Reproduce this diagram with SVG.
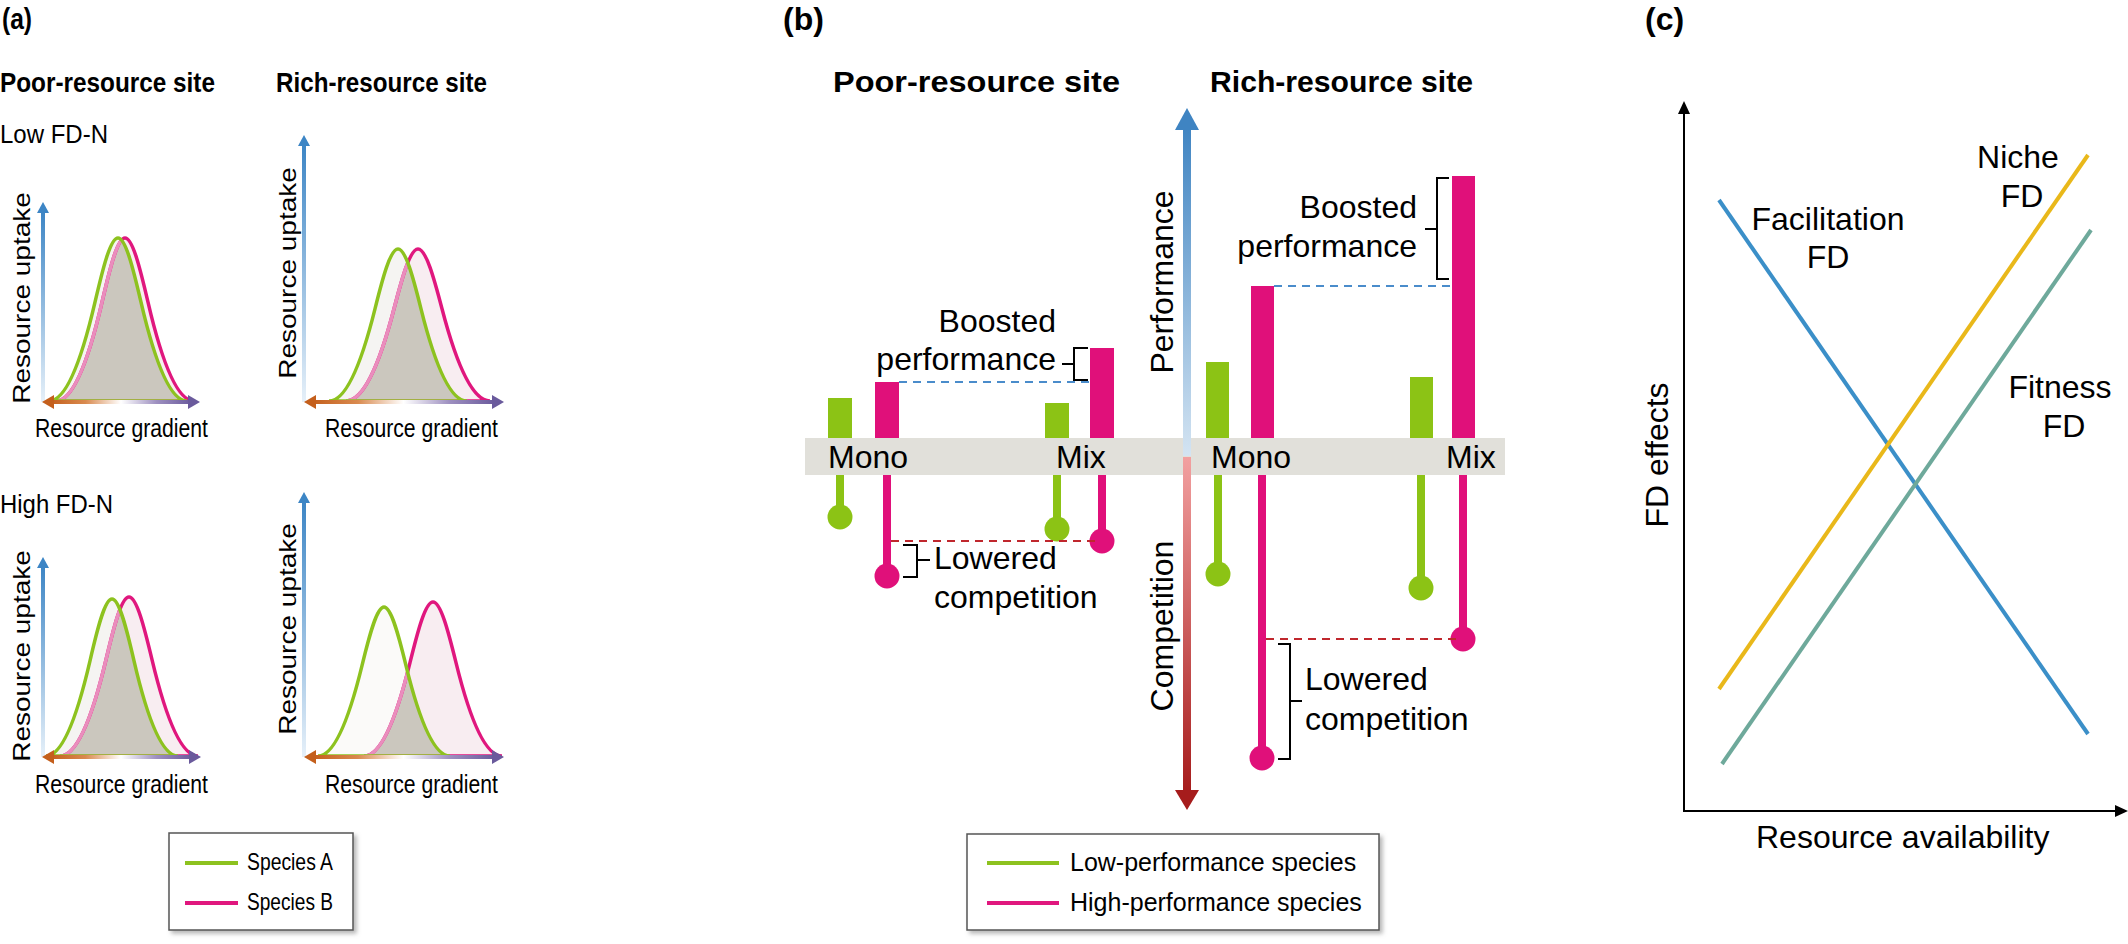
<svg xmlns="http://www.w3.org/2000/svg" width="2128" height="944" viewBox="0 0 2128 944">
<style>
text{font-family:"Liberation Sans",Arial,sans-serif;fill:#000}
.b{font-weight:bold}
.f25{font-size:25px}.f32{font-size:32px}
.pk{fill:#f8edf1}.gr{fill:#f5f4f2}.ov{fill:#cbc7be}
.pks{fill:none;stroke:#e0177e;stroke-width:3.5}
.pkl{fill:none;stroke:#ea8dbd;stroke-width:3.5}
.gs{fill:none;stroke:#8dc21f;stroke-width:3.5}
.br{fill:none;stroke:#000;stroke-width:2}
.gbar{fill:#8cc315}.pbar{fill:#e0107a}
.gst{stroke:#8cc315;stroke-width:8}.pst{stroke:#e0107a;stroke-width:8}
.leg{fill:#fff;stroke:#555;stroke-width:1.5;filter:url(#sh)}
</style>
<defs>
<filter id="sh" x="-10%" y="-10%" width="125%" height="130%"><feDropShadow dx="3" dy="3" stdDeviation="2" flood-color="#888" flood-opacity="0.6"/></filter>
<linearGradient id="gx" x1="0" y1="0" x2="1" y2="0"><stop offset="0" stop-color="#c45f1c"/><stop offset="0.25" stop-color="#d98a4f"/><stop offset="0.5" stop-color="#ffffff"/><stop offset="0.75" stop-color="#9e90c0"/><stop offset="1" stop-color="#6a5a9c"/></linearGradient>
<linearGradient id="gy" x1="0" y1="0" x2="0" y2="1"><stop offset="0" stop-color="#3c85c5"/><stop offset="1" stop-color="#e6f0f9"/></linearGradient>
<linearGradient id="gperf" x1="0" y1="0" x2="0" y2="1"><stop offset="0" stop-color="#3f84c2"/><stop offset="1" stop-color="#d4e4f2"/></linearGradient>
<linearGradient id="gcomp" x1="0" y1="0" x2="0" y2="1"><stop offset="0" stop-color="#f2a0a0"/><stop offset="1" stop-color="#a61c1c"/></linearGradient>
<path id="tlg" d="M49,401 C64.3,401 79.7,368 95,302.1 C102.7,269.1 110.3,238 118,238 C125.7,238 133.3,269.1 141,302.1 C156.3,368 171.7,401 187,401 Z"/>
<path id="tlp" d="M56,401 C71.3,401 86.7,368 102,302.1 C109.7,269.1 117.3,238 125,238 C132.7,238 140.3,269.1 148,302.1 C163.3,368 178.7,401 194,401 Z"/>
<path id="trg" d="M329,401 C344.3,401 359.7,370.2 375,308.8 C382.7,278 390.3,249 398,249 C405.7,249 413.3,278 421,308.8 C436.3,370.2 451.7,401 467,401 Z"/>
<path id="trp" d="M346,401 C362,401 378,370.2 394,308.8 C402,278 410,249 418,249 C426,249 434,278 442,308.8 C458,370.2 474,401 490,401 Z"/>
<path id="blg" d="M46,756 C60.7,756 75.3,724.2 90,660.8 C97.3,629 104.7,599 112,599 C119.3,599 126.7,629 134,660.8 C148.7,724.2 163.3,756 178,756 Z"/>
<path id="blp" d="M60,756 C75.3,756 90.7,723.8 106,659.6 C113.7,627.4 121.3,597 129,597 C136.7,597 144.3,627.4 152,659.6 C167.3,723.8 182.7,756 198,756 Z"/>
<path id="brg" d="M318,756 C332.7,756 347.3,725.8 362,665.6 C369.3,635.5 376.7,607 384,607 C391.3,607 398.7,635.5 406,665.6 C420.7,725.8 435.3,756 450,756 Z"/>
<path id="brp" d="M364,756 C379.3,756 394.7,724.8 410,662.6 C417.7,631.4 425.3,602 433,602 C440.7,602 448.3,631.4 456,662.6 C471.3,724.8 486.7,756 502,756 Z"/>
<clipPath id="c-tl"><path d="M49,401 C64.3,401 79.7,368 95,302.1 C102.7,269.1 110.3,238 118,238 C125.7,238 133.3,269.1 141,302.1 C156.3,368 171.7,401 187,401 Z"/></clipPath>
<clipPath id="c-tr"><path d="M329,401 C344.3,401 359.7,370.2 375,308.8 C382.7,278 390.3,249 398,249 C405.7,249 413.3,278 421,308.8 C436.3,370.2 451.7,401 467,401 Z"/></clipPath>
<clipPath id="c-bl"><path d="M46,756 C60.7,756 75.3,724.2 90,660.8 C97.3,629 104.7,599 112,599 C119.3,599 126.7,629 134,660.8 C148.7,724.2 163.3,756 178,756 Z"/></clipPath>
<clipPath id="c-br"><path d="M318,756 C332.7,756 347.3,725.8 362,665.6 C369.3,635.5 376.7,607 384,607 C391.3,607 398.7,635.5 406,665.6 C420.7,725.8 435.3,756 450,756 Z"/></clipPath>
</defs>
<rect width="2128" height="944" fill="#fff"/>

<!-- Panel (a) -->
<g id="panel-a">
<text class="b" x="2" y="29" font-size="30" textLength="30" lengthAdjust="spacingAndGlyphs">(a)</text>
<text class="b" x="0" y="92" font-size="28" textLength="215" lengthAdjust="spacingAndGlyphs">Poor-resource site</text>
<text class="b" x="276" y="92" font-size="28" textLength="211" lengthAdjust="spacingAndGlyphs">Rich-resource site</text>
<text x="0" y="143" font-size="26" textLength="108" lengthAdjust="spacingAndGlyphs">Low FD-N</text>
<text x="0" y="513" font-size="26" textLength="113" lengthAdjust="spacingAndGlyphs">High FD-N</text>

<g id="chart-tl">
<use href="#tlp" class="pk"/><use href="#tlg" class="gr"/><use href="#tlp" class="ov" clip-path="url(#c-tl)"/>
<use href="#tlp" class="pks"/><use href="#tlp" class="pkl" clip-path="url(#c-tl)"/><use href="#tlg" class="gs"/>
<rect x="41" y="210" width="4" height="192" fill="url(#gy)"/><polygon points="43,202 37,213 49,213" fill="#3c85c5"/>
<rect x="50" y="400" width="142" height="4" fill="url(#gx)"/>
<polygon points="42,402 54,395 54,409" fill="#c45f1c"/><polygon points="200,402 188,395 188,409" fill="#6a5a9c"/>
<text x="0" y="0" font-size="28" text-anchor="middle" transform="translate(30,298) scale(0.85,1) rotate(-90)">Resource uptake</text>
<text x="35" y="437" font-size="25" textLength="173" lengthAdjust="spacingAndGlyphs">Resource gradient</text>
</g>

<g id="chart-tr">
<use href="#trp" class="pk"/><use href="#trg" class="gr"/><use href="#trp" class="ov" clip-path="url(#c-tr)"/>
<use href="#trp" class="pks"/><use href="#trp" class="pkl" clip-path="url(#c-tr)"/><use href="#trg" class="gs"/>
<rect x="302" y="143" width="4" height="259" fill="url(#gy)"/><polygon points="304,135 298,146 310,146" fill="#3c85c5"/>
<rect x="312" y="400" width="183" height="4" fill="url(#gx)"/>
<polygon points="304,402 316,395 316,409" fill="#c45f1c"/><polygon points="504,402 492,395 492,409" fill="#6a5a9c"/>
<text x="0" y="0" font-size="28" text-anchor="middle" transform="translate(296,273) scale(0.85,1) rotate(-90)">Resource uptake</text>
<text x="325" y="437" font-size="25" textLength="173" lengthAdjust="spacingAndGlyphs">Resource gradient</text>
</g>

<g id="chart-bl">
<use href="#blp" class="pk"/><use href="#blg" class="gr"/><use href="#blp" class="ov" clip-path="url(#c-bl)"/>
<use href="#blp" class="pks"/><use href="#blp" class="pkl" clip-path="url(#c-bl)"/><use href="#blg" class="gs"/>
<rect x="41" y="565" width="4" height="192" fill="url(#gy)"/><polygon points="43,557 37,568 49,568" fill="#3c85c5"/>
<rect x="50" y="755" width="142" height="4" fill="url(#gx)"/>
<polygon points="42,757 54,750 54,764" fill="#c45f1c"/><polygon points="201,757 189,750 189,764" fill="#6a5a9c"/>
<text x="0" y="0" font-size="28" text-anchor="middle" transform="translate(30,656) scale(0.85,1) rotate(-90)">Resource uptake</text>
<text x="35" y="793" font-size="25" textLength="173" lengthAdjust="spacingAndGlyphs">Resource gradient</text>
</g>

<g id="chart-br">
<use href="#brp" class="pk"/><use href="#brg" fill="#fbfaf9"/><use href="#brp" class="ov" clip-path="url(#c-br)"/>
<use href="#brp" class="pks"/><use href="#brp" class="pkl" clip-path="url(#c-br)"/><use href="#brg" class="gs"/>
<rect x="302" y="500" width="4" height="257" fill="url(#gy)"/><polygon points="304,492 298,503 310,503" fill="#3c85c5"/>
<rect x="312" y="755" width="183" height="4" fill="url(#gx)"/>
<polygon points="304,757 316,750 316,764" fill="#c45f1c"/><polygon points="504,757 492,750 492,764" fill="#6a5a9c"/>
<text x="0" y="0" font-size="28" text-anchor="middle" transform="translate(296,629) scale(0.85,1) rotate(-90)">Resource uptake</text>
<text x="325" y="793" font-size="25" textLength="173" lengthAdjust="spacingAndGlyphs">Resource gradient</text>
</g>

<g id="legend-a">
<rect class="leg" x="169" y="833" width="184" height="97"/>
<line x1="185" y1="863" x2="238" y2="863" stroke="#8dc21f" stroke-width="4"/>
<line x1="185" y1="903" x2="238" y2="903" stroke="#e0177e" stroke-width="4"/>
<text x="247" y="870" font-size="24" textLength="86" lengthAdjust="spacingAndGlyphs">Species A</text>
<text x="247" y="910" font-size="24" textLength="86" lengthAdjust="spacingAndGlyphs">Species B</text>
</g>
</g>

<!-- Panel (b) -->
<g id="panel-b">
<text class="b f32" x="783" y="30">(b)</text>
<text class="b" x="833" y="92" font-size="30" textLength="287" lengthAdjust="spacingAndGlyphs">Poor-resource site</text>
<text class="b" x="1210" y="92" font-size="30" textLength="263" lengthAdjust="spacingAndGlyphs">Rich-resource site</text>

<g id="band">
<rect x="805" y="438" width="700" height="37" fill="#e1e0da"/>
<text class="f32" x="828" y="468">Mono</text>
<text class="f32" x="1056" y="468">Mix</text>
<text class="f32" x="1211" y="468">Mono</text>
<text class="f32" x="1446" y="468">Mix</text>
</g>

<g id="axis-perf-comp">
<rect x="1183" y="126" width="8" height="330" fill="url(#gperf)"/>
<polygon points="1187,108 1175,130 1199,130" fill="#3f84c2"/>
<rect x="1183" y="457" width="8" height="336" fill="url(#gcomp)"/>
<polygon points="1187,810 1175,790 1199,790" fill="#a61c1c"/>
<text class="f32" text-anchor="middle" transform="translate(1173,282) rotate(-90)">Performance</text>
<text class="f32" text-anchor="middle" transform="translate(1173,626) rotate(-90)">Competition</text>
</g>

<g id="bars-poor">
<rect class="gbar" x="828" y="398" width="24" height="40"/>
<rect class="pbar" x="875" y="382" width="24" height="56"/>
<rect class="gbar" x="1045" y="403" width="24" height="35"/>
<rect class="pbar" x="1090" y="348" width="24" height="90"/>
</g>
<g id="bars-rich">
<rect class="gbar" x="1206" y="362" width="23" height="76"/>
<rect class="pbar" x="1251" y="286" width="23" height="152"/>
<rect class="gbar" x="1410" y="377" width="23" height="61"/>
<rect class="pbar" x="1452" y="176" width="23" height="262"/>
</g>

<g id="lollipops">
<line class="gst" x1="840" y1="475" x2="840" y2="517"/><circle cx="840" cy="517" r="12.5" fill="#8cc315"/>
<line class="pst" x1="887" y1="475" x2="887" y2="576"/><circle cx="887" cy="576" r="12.5" fill="#e0107a"/>
<line class="gst" x1="1057" y1="475" x2="1057" y2="529"/><circle cx="1057" cy="529" r="12.5" fill="#8cc315"/>
<line class="pst" x1="1102" y1="475" x2="1102" y2="541"/><circle cx="1102" cy="541" r="12.5" fill="#e0107a"/>
<line class="gst" x1="1218" y1="475" x2="1218" y2="574"/><circle cx="1218" cy="574" r="12.5" fill="#8cc315"/>
<line class="pst" x1="1262" y1="475" x2="1262" y2="758"/><circle cx="1262" cy="758" r="12.5" fill="#e0107a"/>
<line class="gst" x1="1421" y1="475" x2="1421" y2="588"/><circle cx="1421" cy="588" r="12.5" fill="#8cc315"/>
<line class="pst" x1="1463" y1="475" x2="1463" y2="639"/><circle cx="1463" cy="639" r="12.5" fill="#e0107a"/>
</g>

<g id="connectors">
<line x1="899" y1="382" x2="1090" y2="382" stroke="#4a8ccb" stroke-width="2" stroke-dasharray="8 6"/>
<line x1="1274" y1="286" x2="1452" y2="286" stroke="#4a8ccb" stroke-width="2" stroke-dasharray="8 6"/>
<line x1="891" y1="541" x2="1098" y2="541" stroke="#c0272d" stroke-width="2" stroke-dasharray="8 6"/>
<line x1="1266" y1="639" x2="1459" y2="639" stroke="#c0272d" stroke-width="2" stroke-dasharray="8 6"/>
<path class="br" d="M1088,348 H1074 V380 H1088 M1062,364 H1074"/>
<path class="br" d="M1449,178 H1437 V279 H1449 M1425,229 H1437"/>
<path class="br" d="M903,545 H917 V577 H903 M917,560 H930"/>
<path class="br" d="M1278,644 H1290 V759 H1278 M1290,701 H1302"/>
</g>

<g id="label-boost-poor">
<text class="f32" x="1056" y="332" text-anchor="end">Boosted</text>
<text class="f32" x="1056" y="370" text-anchor="end">performance</text>
</g>
<g id="label-boost-rich">
<text class="f32" x="1417" y="218" text-anchor="end">Boosted</text>
<text class="f32" x="1417" y="257" text-anchor="end">performance</text>
</g>
<g id="label-lower-poor">
<text class="f32" x="934" y="569">Lowered</text>
<text class="f32" x="934" y="608">competition</text>
</g>
<g id="label-lower-rich">
<text class="f32" x="1305" y="690">Lowered</text>
<text class="f32" x="1305" y="730">competition</text>
</g>

<g id="legend-b">
<rect class="leg" x="967" y="834" width="412" height="96"/>
<line x1="987" y1="863" x2="1059" y2="863" stroke="#8dc21f" stroke-width="4"/>
<line x1="987" y1="903" x2="1059" y2="903" stroke="#e0177e" stroke-width="4"/>
<text class="f25" x="1070" y="871">Low-performance species</text>
<text class="f25" x="1070" y="911">High-performance species</text>
</g>
</g>

<!-- Panel (c) -->
<g id="panel-c">
<text class="b f32" x="1645" y="30">(c)</text>
<g id="axes-c">
<path d="M1684,112 V811 H2117" fill="none" stroke="#000" stroke-width="2"/>
<polygon points="1684,101 1678,114 1690,114" fill="#000"/>
<polygon points="2128,811 2115,805 2115,817" fill="#000"/>
<text class="f32" text-anchor="middle" transform="translate(1668,455) rotate(-90)">FD effects</text>
<text class="f32" x="1756" y="848">Resource availability</text>
</g>
<g id="line-facilitation">
<line x1="1719" y1="200" x2="2088" y2="734" stroke="#3b8fc8" stroke-width="4"/>
<text class="f32" x="1828" y="230" text-anchor="middle">Facilitation</text>
<text class="f32" x="1828" y="268" text-anchor="middle">FD</text>
</g>
<g id="line-niche">
<line x1="1719" y1="689" x2="2088" y2="155" stroke="#e9b81a" stroke-width="4"/>
<text class="f32" x="2018" y="168" text-anchor="middle">Niche</text>
<text class="f32" x="2022" y="207" text-anchor="middle">FD</text>
</g>
<g id="line-fitness">
<line x1="1722" y1="764" x2="2091" y2="230" stroke="#6ea99b" stroke-width="4"/>
<text class="f32" x="2060" y="398" text-anchor="middle">Fitness</text>
<text class="f32" x="2064" y="437" text-anchor="middle">FD</text>
</g>
</g>
</svg>
